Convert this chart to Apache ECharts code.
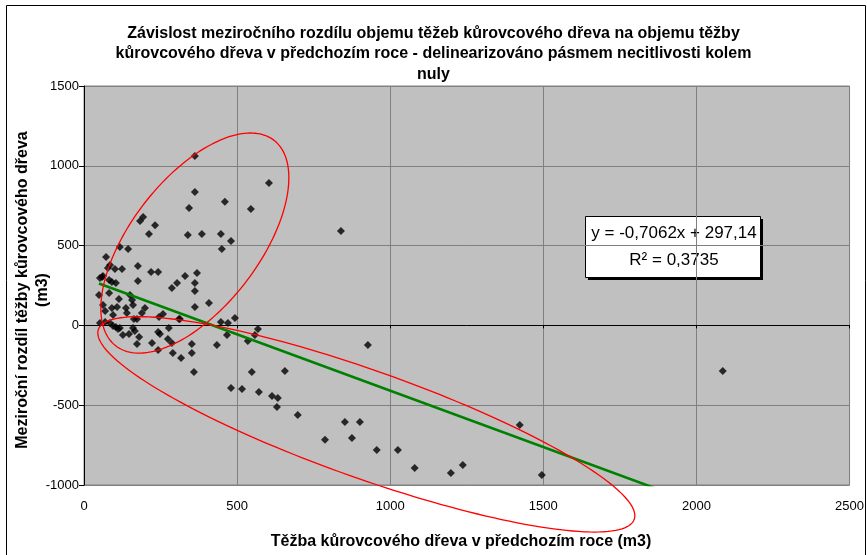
<!DOCTYPE html>
<html>
<head>
<meta charset="utf-8">
<script src="https://cdn.jsdelivr.net/npm/echarts@6/dist/echarts.min.js"></script>
<style>
  html, body { margin: 0; padding: 0; background: #ffffff; }
  #chart { width: 867px; height: 555px; }
</style>
</head>
<body>
<div id="chart"></div>
<script>
// Těžba kůrovcového dřeva v předchozím roce (m3)
const prevYearVolume = [
  362, 362, 460, 343, 545, 604, 839, 193, 183, 232,
  212, 339, 385, 447, 480, 450, 117, 144, 72, 85,
  78, 101, 124, 176, 219, 242, 176, 59, 62, 52,
  82, 91, 104, 49, 82, 150, 114, 157, 62, 69,
  91, 108, 137, 160, 95, 140, 199, 189, 163, 173,
  245, 258, 310, 330, 369, 304, 287, 362, 362, 362,
  408, 447, 470, 493, 467, 568, 558, 535, 548, 359,
  52, 69, 85, 95, 104, 111, 117, 127, 147, 160,
  166, 180, 173, 222, 242, 248, 242, 274, 277, 290,
  317, 352, 352, 287, 313, 434, 927, 480, 516, 571,
  656, 614, 633, 630, 698, 787, 852, 901, 875, 956,
  1025, 1080, 1198, 1237, 1423, 1495, 2086
];
// Meziroční rozdíl těžby kůrovcového dřeva (m3)
const yearOnYearDiff = [
  1061, 836, 774, 736, 730, 892, 591, 679, 654, 628,
  573, 566, 573, 573, 529, 479, 492, 479, 429, 379,
  360, 353, 353, 372, 335, 335, 278, 303, 309, 297,
  284, 272, 266, 190, 203, 190, 165, 159, 128, 90,
  109, 115, 109, 128, 65, 78, 109, 78, 40, 40,
  53, 71, 40, 310, 328, 266, 234, 266, 216, 115,
  140, 21, 15, 46, -60, -23, -60, -98, -292, -292,
  15, 21, 15, -4, -10, -23, -16, -60, -54, -16,
  -35, -73, -117, -110, -41, -54, -154, -85, -16, -173,
  -204, -117, -173, -110, 40, -123, -123, -392, -398, -417,
  -286, -442, -455, -511, -561, -717, -605, -605, -705, -780,
  -780, -893, -925, -874, -624, -937, -286
];

const xTickValues = [0, 500, 1000, 1500, 2000, 2500];
const yTickValues = [-1000, -500, 0, 500, 1000, 1500];

// Lineární trend
const trendSlope = -0.7062;
const trendIntercept = 297.14;
const trendR2 = 0.3735;

// Vyznačené skupiny bodů: střed a dva sdružené poloosové vektory (v jednotkách os)
const groupRising = { cx: 362, cy: 516, ux: 307, uy: 409, vx: 0, vy: -555 };
const groupFalling = { cx: 922, cy: -620, ux: 875, uy: -595, vx: -58, vy: -318 };

const FONT = "'Liberation Sans', Arial, sans-serif";

const points = prevYearVolume.map((x, i) => [x, yearOnYearDiff[i]]);
const xMin = Math.min(...prevYearVolume);
const xMax = Math.max(...prevYearVolume);
const trendLine = [xMin, xMax].map(x => [x, trendSlope * x + trendIntercept]);

const fmt = (v, d) => v.toFixed(d).replace('.', ',');
const eqText = 'y = ' + fmt(trendSlope, 4) + 'x + ' + fmt(trendIntercept, 2);
const r2Text = 'R² = ' + fmt(trendR2, 4);

function ellipseSeries(e) {
  return {
    type: 'custom',
    coordinateSystem: 'cartesian2d',
    clip: false,
    silent: true,
    z: 5,
    data: [[e.cx, e.cy]],
    renderItem: function (params, api) {
      const pts = [];
      const n = 180;
      for (let i = 0; i <= n; i++) {
        const t = (i / n) * Math.PI * 2;
        const c = Math.cos(t), s = Math.sin(t);
        pts.push(api.coord([e.cx + e.ux * c + e.vx * s, e.cy + e.uy * c + e.vy * s]));
      }
      return {
        type: 'polyline',
        shape: { points: pts },
        style: { fill: null, stroke: '#ff0000', lineWidth: 1.3 }
      };
    }
  };
}

const chart = echarts.init(document.getElementById('chart'), null, { renderer: 'canvas' });

chart.setOption({
  animation: false,
  backgroundColor: '#ffffff',
  title: {
    text: 'Závislost meziročního rozdílu objemu těžeb kůrovcového dřeva na objemu těžby\n' +
          'kůrovcového dřeva v předchozím roce - delinearizováno pásmem necitlivosti kolem\n' +
          'nuly',
    left: 'center',
    top: 23,
    padding: 0,
    textStyle: { fontFamily: FONT, fontSize: 16, fontWeight: 'bold', color: '#000', lineHeight: 20.5, align: 'center' }
  },
  grid: {
    left: 84, top: 86, width: 766, height: 399,
    show: true, backgroundColor: '#c0c0c0', borderColor: '#808080', borderWidth: 1
  },
  xAxis: [
    {
      type: 'value', position: 'bottom', min: 0, max: 2500, interval: 500,
      axisLine: { show: false, onZero: false },
      axisTick: { show: false },
      axisLabel: {
        margin: 15, fontFamily: FONT, fontSize: 13, color: '#000',
        customValues: xTickValues, formatter: v => String(v)
      },
      splitLine: { show: true, lineStyle: { color: '#808080', width: 1 } }
    },
    {
      type: 'value', position: 'bottom', min: 0, max: 2500, interval: 500,
      axisLine: { show: true, onZero: true, lineStyle: { color: '#000', width: 1 } },
      axisTick: { show: true, length: 3, lineStyle: { color: '#000' } },
      axisLabel: { show: false },
      splitLine: { show: false }
    }
  ],
  yAxis: {
    type: 'value', min: -1000, max: 1500, interval: 500,
    axisLine: { show: true, onZero: false, lineStyle: { color: '#000', width: 1 } },
    axisTick: { show: true, length: 5, lineStyle: { color: '#000' } },
    axisLabel: {
      margin: 5, fontFamily: FONT, fontSize: 13, color: '#000',
      customValues: yTickValues, formatter: v => String(v)
    },
    splitLine: { show: true, lineStyle: { color: '#808080', width: 1 } }
  },
  series: [
    {
      type: 'scatter',
      data: points,
      symbol: 'diamond',
      symbolSize: 8,
      itemStyle: { color: '#000000' },
      z: 3
    },
    {
      type: 'line',
      data: trendLine,
      showSymbol: false,
      symbol: 'none',
      clip: true,
      lineStyle: { color: '#008000', width: 2.6 },
      z: 4
    },
    ellipseSeries(groupRising),
    ellipseSeries(groupFalling)
  ],
  graphic: [
    {
      type: 'rect', silent: true, z: 0,
      shape: { x: 6.5, y: 5.5, width: 859, height: 560 },
      style: { fill: null, stroke: '#000', lineWidth: 1 }
    },
    {
      type: 'text', silent: true,
      x: 33, y: 290, rotation: Math.PI / 2,
      style: {
        text: 'Meziroční rozdíl těžby kůrovcového dřeva\n(m3)',
        fontFamily: FONT, fontSize: 16, fontWeight: 'bold', fill: '#000',
        align: 'center', verticalAlign: 'middle', lineHeight: 20
      }
    },
    {
      type: 'text', silent: true,
      x: 461, y: 542,
      style: {
        text: 'Těžba kůrovcového dřeva v předchozím roce (m3)',
        fontFamily: FONT, fontSize: 16, fontWeight: 'bold', fill: '#000',
        align: 'center', verticalAlign: 'middle'
      }
    },
    {
      type: 'group', x: 585, y: 216, z: 10,
      children: [
        { type: 'rect', shape: { x: 3, y: 3, width: 175, height: 61 }, style: { fill: '#000' } },
        { type: 'rect', shape: { x: 0.5, y: 0.5, width: 175, height: 61 }, style: { fill: '#fff', stroke: '#000', lineWidth: 1 } },
        {
          type: 'text', x: 89, y: 17,
          style: { text: eqText, fontFamily: FONT, fontSize: 17, fill: '#000', align: 'center', verticalAlign: 'middle' }
        },
        {
          type: 'text', x: 89, y: 44,
          style: { text: r2Text, fontFamily: FONT, fontSize: 17, fill: '#000', align: 'center', verticalAlign: 'middle' }
        }
      ]
    }
  ]
});
</script>
</body>
</html>
